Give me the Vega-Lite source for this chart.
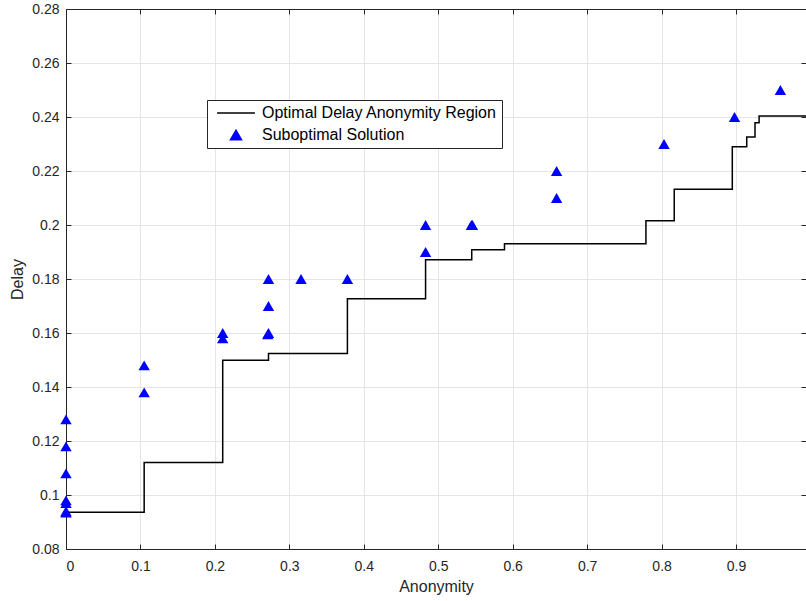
{
  "$schema": "https://vega.github.io/schema/vega-lite/v6.json",
  "width": 740,
  "height": 540,
  "autosize": {"type": "none"},
  "padding": {"left": 66, "top": 9, "right": 0, "bottom": 52},
  "background": "white",
  "config": {
    "font": "Liberation Sans",
    "view": {"stroke": "#262626", "strokeWidth": 1},
    "axis": {
      "domainColor": "#262626",
      "tickColor": "#262626",
      "labelColor": "#262626",
      "titleColor": "#262626",
      "labelFont": "Liberation Sans",
      "titleFont": "Liberation Sans",
      "labelFontSize": 14,
      "titleFontSize": 16,
      "titleFontWeight": "normal",
      "gridColor": "#e5e5e5",
      "gridWidth": 1,
      "tickSize": -5,
      "domainWidth": 1
    }
  },
  "data": {
    "values": [
      {"series": "Optimal Delay Anonymity Region", "anonymity": 0, "delay": 0.0936},
      {"series": "Optimal Delay Anonymity Region", "anonymity": 0.105, "delay": 0.112},
      {"series": "Optimal Delay Anonymity Region", "anonymity": 0.2105, "delay": 0.1499},
      {"series": "Optimal Delay Anonymity Region", "anonymity": 0.272, "delay": 0.1524},
      {"series": "Optimal Delay Anonymity Region", "anonymity": 0.378, "delay": 0.1727},
      {"series": "Optimal Delay Anonymity Region", "anonymity": 0.483, "delay": 0.1871},
      {"series": "Optimal Delay Anonymity Region", "anonymity": 0.545, "delay": 0.1908},
      {"series": "Optimal Delay Anonymity Region", "anonymity": 0.589, "delay": 0.1931},
      {"series": "Optimal Delay Anonymity Region", "anonymity": 0.779, "delay": 0.2016},
      {"series": "Optimal Delay Anonymity Region", "anonymity": 0.817, "delay": 0.2132},
      {"series": "Optimal Delay Anonymity Region", "anonymity": 0.895, "delay": 0.229},
      {"series": "Optimal Delay Anonymity Region", "anonymity": 0.9144, "delay": 0.2326},
      {"series": "Optimal Delay Anonymity Region", "anonymity": 0.9255, "delay": 0.2379},
      {"series": "Optimal Delay Anonymity Region", "anonymity": 0.931, "delay": 0.2404},
      {"series": "Optimal Delay Anonymity Region", "anonymity": 1.0, "delay": 0.2404},
      {"series": "Suboptimal Solution", "anonymity": 0, "delay": 0.128},
      {"series": "Suboptimal Solution", "anonymity": 0, "delay": 0.118},
      {"series": "Suboptimal Solution", "anonymity": 0, "delay": 0.108},
      {"series": "Suboptimal Solution", "anonymity": 0, "delay": 0.098},
      {"series": "Suboptimal Solution", "anonymity": 0, "delay": 0.097},
      {"series": "Suboptimal Solution", "anonymity": 0, "delay": 0.094},
      {"series": "Suboptimal Solution", "anonymity": 0, "delay": 0.0935},
      {"series": "Suboptimal Solution", "anonymity": 0.105, "delay": 0.148},
      {"series": "Suboptimal Solution", "anonymity": 0.105, "delay": 0.138},
      {"series": "Suboptimal Solution", "anonymity": 0.2105, "delay": 0.16},
      {"series": "Suboptimal Solution", "anonymity": 0.2105, "delay": 0.158},
      {"series": "Suboptimal Solution", "anonymity": 0.272, "delay": 0.18},
      {"series": "Suboptimal Solution", "anonymity": 0.272, "delay": 0.17},
      {"series": "Suboptimal Solution", "anonymity": 0.272, "delay": 0.16},
      {"series": "Suboptimal Solution", "anonymity": 0.271, "delay": 0.1595},
      {"series": "Suboptimal Solution", "anonymity": 0.3157, "delay": 0.18},
      {"series": "Suboptimal Solution", "anonymity": 0.378, "delay": 0.18},
      {"series": "Suboptimal Solution", "anonymity": 0.483, "delay": 0.2},
      {"series": "Suboptimal Solution", "anonymity": 0.483, "delay": 0.19},
      {"series": "Suboptimal Solution", "anonymity": 0.5445, "delay": 0.2},
      {"series": "Suboptimal Solution", "anonymity": 0.546, "delay": 0.2},
      {"series": "Suboptimal Solution", "anonymity": 0.659, "delay": 0.22},
      {"series": "Suboptimal Solution", "anonymity": 0.659, "delay": 0.21},
      {"series": "Suboptimal Solution", "anonymity": 0.8033, "delay": 0.23},
      {"series": "Suboptimal Solution", "anonymity": 0.898, "delay": 0.24},
      {"series": "Suboptimal Solution", "anonymity": 0.9596, "delay": 0.25}
    ]
  },
  "layer": [
    {
      "transform": [{"filter": "datum.series === 'Optimal Delay Anonymity Region'"}],
      "mark": {"type": "line", "interpolate": "step-after", "strokeWidth": 1.5, "clip": true},
      "encoding": {
        "x": {
          "field": "anonymity", "type": "quantitative",
          "scale": {"domain": [0, 0.994], "nice": false, "zero": false},
          "axis": {"orient": "bottom", "values": [0, 0.1, 0.2, 0.3, 0.4, 0.5, 0.6, 0.7, 0.8, 0.9], "format": ".1~f", "title": "Anonymity", "labelPadding": 15, "titlePadding": 5}
        },
        "y": {
          "field": "delay", "type": "quantitative",
          "scale": {"domain": [0.08, 0.28], "nice": false, "zero": false},
          "axis": {"orient": "left", "values": [0.08, 0.1, 0.12, 0.14, 0.16, 0.18, 0.2, 0.22, 0.24, 0.26, 0.28], "format": ".2~f", "title": "Delay", "labelPadding": 12, "titlePadding": 6}
        },
        "color": {
          "field": "series", "type": "nominal",
          "scale": {"domain": ["Optimal Delay Anonymity Region", "Suboptimal Solution"], "range": ["#000000", "#0000ff"]},
          "legend": {
            "orient": "none", "legendX": 141, "legendY": 91, "title": null,
            "strokeColor": "#262626", "fillColor": "#ffffff", "padding": 5,
            "labelFontSize": 16, "labelColor": "#000000", "labelFont": "Liberation Sans", "labelLimit": 500,
            "symbolSize": 196, "symbolStrokeWidth": 1.3, "symbolOffset": 16, "labelOffset": 18, "rowPadding": 6,
            "encode": {
              "symbols": {
                "update": {
                  "shape": {"signal": "datum.value === 'Suboptimal Solution' ? 'triangle-up' : 'M-2.7,0L2.7,0'"},
                  "size": {"signal": "datum.value === 'Suboptimal Solution' ? 130 : 196"},
                  "fill": {"signal": "datum.value === 'Suboptimal Solution' ? '#0000ff' : 'transparent'"},
                  "stroke": {"signal": "datum.value === 'Suboptimal Solution' ? '#0000ff' : '#000000'"},
                  "strokeWidth": {"value": 1.3},
                  "opacity": {"value": 1}
                }
              }
            }
          }
        }
      }
    },
    {
      "transform": [{"filter": "datum.series === 'Suboptimal Solution'"}],
      "mark": {"type": "point", "shape": "triangle-up", "filled": true, "size": 130, "opacity": 1},
      "encoding": {
        "x": {
          "field": "anonymity", "type": "quantitative",
          "axis": {"orient": "top", "values": [0, 0.1, 0.2, 0.3, 0.4, 0.5, 0.6, 0.7, 0.8, 0.9], "labels": false, "grid": false, "title": null}
        },
        "y": {
          "field": "delay", "type": "quantitative",
          "axis": {"orient": "right", "values": [0.08, 0.1, 0.12, 0.14, 0.16, 0.18, 0.2, 0.22, 0.24, 0.26, 0.28], "labels": false, "grid": false, "title": null}
        },
        "color": {"field": "series", "type": "nominal"}
      }
    }
  ],
  "resolve": {"axis": {"x": "independent", "y": "independent"}}
}
